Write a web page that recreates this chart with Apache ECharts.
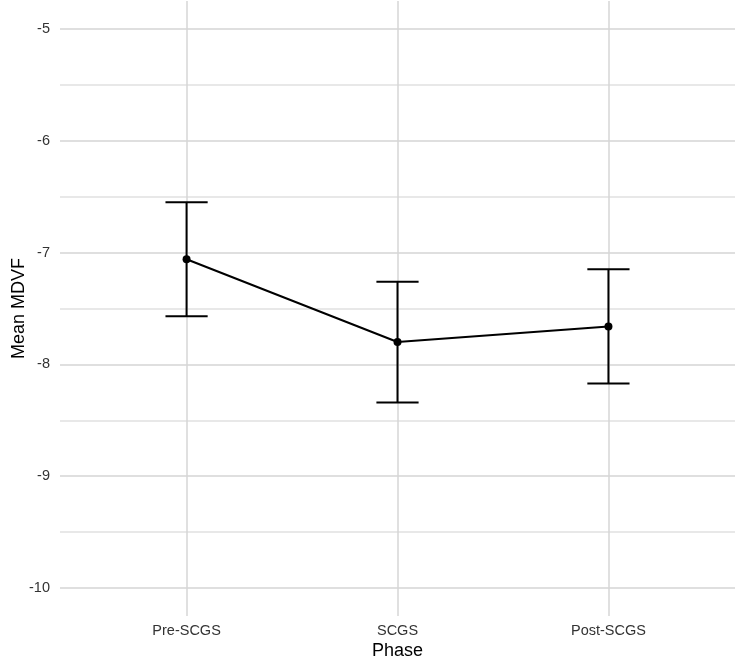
<!DOCTYPE html>
<html>
<head>
<meta charset="utf-8" />
<title>Mean MDVF by Phase</title>
<script src="https://cdn.jsdelivr.net/npm/echarts@6/dist/echarts.min.js"></script>
<style>
  html, body { margin: 0; padding: 0; background: #fff; }
  #chart { width: 750px; height: 668px; }
</style>
</head>
<body>
<div id="chart"></div>
<script>
// data
const phases = ['Pre-SCGS', 'SCGS', 'Post-SCGS'];
const means = [-7.06, -7.80, -7.66];
const upper = [-6.55, -7.26, -7.15];
const lower = [-7.57, -8.34, -8.17];
const yTicks = [-10, -9, -8, -7, -6, -5];

const chart = echarts.init(document.getElementById('chart'));

const lineData = phases.map((p, i) => [i, means[i]]);
const barData = phases.map((p, i) => [i, lower[i], upper[i]]);

const labelFont = { color: '#333', fontSize: 14.5, fontFamily: 'Liberation Sans' };
const titleFont = { color: '#000', fontSize: 18, fontFamily: 'Liberation Sans' };

chart.setOption({
  animation: false,
  grid: { left: 60, right: 15, top: 1, bottom: 52, containLabel: false, outerBoundsMode: 'none' },
  xAxis: {
    type: 'value',
    min: -0.6, max: 2.6, interval: 0.2,
    name: 'Phase',
    nameLocation: 'middle',
    nameGap: 26,
    nameMoveOverlap: false,
    nameTextStyle: titleFont,
    axisLine: { show: false },
    axisTick: { show: false },
    axisLabel: Object.assign({
      margin: 7,
      formatter: v => {
        const r = Math.round(v);
        return Math.abs(v - r) < 1e-6 && phases[r] ? phases[r] : '';
      }
    }, labelFont),
    splitLine: {
      show: true,
      // only the lines at the three categories are visible
      lineStyle: { color: ['transparent', 'transparent', 'transparent', '#d6d6d6', 'transparent'], width: 1.5 }
    }
  },
  yAxis: {
    type: 'value',
    min: -10.25, max: -4.75, interval: 0.25,
    name: 'Mean MDVF',
    nameLocation: 'middle',
    nameGap: 32,
    nameMoveOverlap: false,
    nameRotate: 90,
    nameTextStyle: titleFont,
    axisLine: { show: false },
    axisTick: { show: false },
    axisLabel: Object.assign({
      margin: 10,
      formatter: v => yTicks.some(t => Math.abs(t - v) < 1e-6) ? String(Math.round(v)) : ''
    }, labelFont),
    splitLine: {
      show: true,
      // major lines at integers, minor at halves
      lineStyle: { color: ['transparent', '#d4d4d4', 'transparent', '#e0e0e0'], width: 1.5 }
    }
  },
  series: [
    {
      type: 'custom',
      name: 'errorbar',
      data: barData,
      renderItem: function (params, api) {
        const x = api.value(0);
        const lo = api.coord([x, api.value(1)]);
        const hi = api.coord([x, api.value(2)]);
        const capL = api.coord([x - 0.1, api.value(2)])[0];
        const capR = api.coord([x + 0.1, api.value(2)])[0];
        const style = { stroke: '#000', lineWidth: 2 };
        return {
          type: 'group',
          children: [
            { type: 'line', shape: { x1: hi[0], y1: hi[1], x2: lo[0], y2: lo[1] }, style: style },
            { type: 'line', shape: { x1: capL, y1: hi[1], x2: capR, y2: hi[1] }, style: style },
            { type: 'line', shape: { x1: capL, y1: lo[1], x2: capR, y2: lo[1] }, style: style }
          ]
        };
      },
      z: 2
    },
    {
      type: 'line',
      name: 'mean',
      data: lineData,
      symbol: 'circle',
      symbolSize: 8,
      lineStyle: { color: '#000', width: 2 },
      itemStyle: { color: '#000' },
      z: 3
    }
  ]
});
</script>
</body>
</html>
